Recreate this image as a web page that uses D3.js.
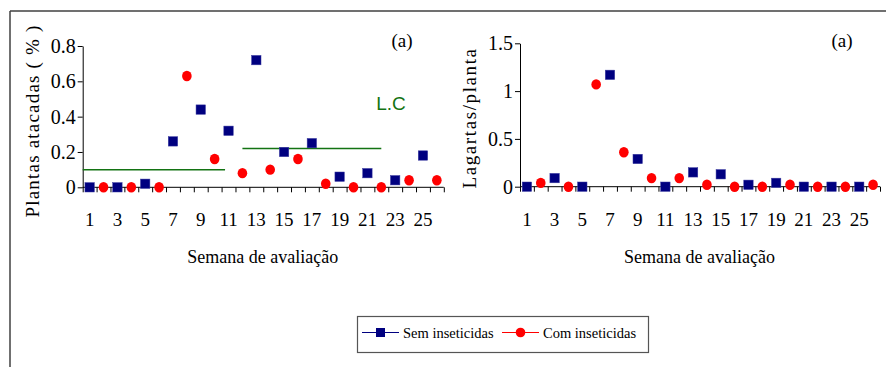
<!doctype html>
<html lang="pt">
<head>
<meta charset="utf-8">
<script src="https://d3js.org/d3.v7.min.js"></script>
<style>
  body { margin: 0; background: #fff; }
  text { font-family: "Liberation Serif", "Times New Roman", serif; fill: #000; }
  .axis path, .axis line { stroke: #000; stroke-width: 1; }
</style>
</head>
<body>
<svg width="886" height="367"></svg>
<script>
// weeks 1..26; "Sem" on odd weeks, "Com" on even weeks
var weeks = d3.range(1, 27);
var semWeeks = [1, 3, 5, 7, 9, 11, 13, 15, 17, 19, 21, 23, 25];
var comWeeks = [2, 4, 6, 8, 10, 12, 14, 16, 18, 20, 22, 24, 26];
var tickWeeks = [1, 3, 5, 7, 9, 11, 13, 15, 17, 19, 21, 23, 25];

// left panel: plantas atacadas (%)
var semAtacadas = [0, 0, 0.02, 0.26, 0.44, 0.32, 0.72, 0.20, 0.25, 0.06, 0.08, 0.04, 0.18];
var comAtacadas = [0, 0, 0, 0.63, 0.16, 0.08, 0.10, 0.16, 0.02, 0, 0, 0.04, 0.04];
var leftTicks = [0, 0.2, 0.4, 0.6, 0.8];
// L.C segments (week from, week to, level)
var lcSegments = [
  {from: 0.5, to: 10.75, value: 0.1},
  {from: 12, to: 22, value: 0.22}
];

// right panel: lagartas/planta
var semLagartas = [0, 0.09, 0, 1.17, 0.29, 0, 0.15, 0.13, 0.02, 0.04, 0, 0, 0];
var comLagartas = [0.04, 0, 1.07, 0.36, 0.09, 0.09, 0.02, 0, 0, 0.02, 0, 0, 0.02];
var rightTicks = [0, 0.5, 1, 1.5];

var svg = d3.select("svg");

// outer frame (top and left only)
svg.append("line").attr("x1", 10).attr("y1", 11).attr("x2", 886).attr("y2", 11)
  .attr("stroke", "#404040").attr("stroke-width", 1.5);
svg.append("line").attr("x1", 10).attr("y1", 11).attr("x2", 10).attr("y2", 367)
  .attr("stroke", "#404040").attr("stroke-width", 1.5);

function panel(opts) {
  var g = svg.append("g");
  var x = d3.scaleLinear().domain([0.5, 26.5]).range([opts.x0, opts.x1]);
  var y = d3.scaleLinear().domain([0, opts.yMax]).range([opts.y0, opts.yTop]);

  // y axis
  var ya = g.append("g").attr("class", "axis")
    .attr("transform", "translate(" + opts.x0 + ",0)")
    .call(d3.axisLeft(y).tickValues(opts.ticks).tickSize(5).tickSizeOuter(0).tickPadding(2)
      .tickFormat(function(d) { return String(d); }));
  ya.selectAll("text").style("font-size", "20px").style("font-family", "Liberation Serif");

  // x axis: boundary ticks below
  var xa = g.append("g").attr("class", "axis")
    .attr("transform", "translate(0," + opts.y0 + ")")
    .call(d3.axisBottom(x).tickValues(d3.range(0.5, 27, 1)).tickSize(5).tickSizeOuter(0)
      .tickFormat(""));
  xa.select(".domain").attr("d", "M" + opts.x0 + ",0H" + opts.x1);

  // x labels
  g.selectAll(".xl").data(tickWeeks).enter().append("text")
    .attr("x", function(d) { return x(d); })
    .attr("y", opts.y0 + 39)
    .attr("text-anchor", "middle")
    .style("font-size", "19px")
    .text(function(d) { return d; });

  if (opts.lc) {
    g.selectAll(".lc").data(opts.lc).enter().append("line")
      .attr("x1", function(d) { return x(d.from); })
      .attr("x2", function(d) { return x(d.to); })
      .attr("y1", function(d) { return y(d.value); })
      .attr("y2", function(d) { return y(d.value); })
      .attr("stroke", "#137313").attr("stroke-width", 1.5);
  }

  // com inseticidas (red circles)
  g.selectAll(".com").data(opts.com).enter().append("ellipse")
    .attr("cx", function(d, i) { return x(comWeeks[i]); })
    .attr("cy", function(d) { return y(d); })
    .attr("rx", 4.8).attr("ry", 5.2)
    .attr("fill", "#ff0000");

  // sem inseticidas (navy squares)
  g.selectAll(".sem").data(opts.sem).enter().append("rect")
    .attr("x", function(d, i) { return x(semWeeks[i]) - 4.7; })
    .attr("y", function(d) { return y(d) - 4.7; })
    .attr("width", 9.4).attr("height", 9.4)
    .attr("fill", "#000080")
    .attr("stroke", "#3a3aa0").attr("stroke-width", 0.5);

  // titles
  g.append("text")
    .attr("x", (opts.x0 + opts.x1) / 2 - 0.5).attr("y", 263)
    .attr("text-anchor", "middle").style("font-size", "18px")
    .text("Semana de avaliação");
  g.append("text")
    .attr("transform", "translate(" + opts.yTitleX + "," + opts.yTitleY + ") rotate(-90)")
    .attr("text-anchor", "middle").style("font-size", "19px")
    .style("letter-spacing", opts.spacing + "px")
    .text(opts.yTitle);
  g.append("text")
    .attr("x", opts.tagX).attr("y", 47)
    .attr("text-anchor", "middle").style("font-size", "19px")
    .text("(a)");
  return {x: x, y: y};
}

panel({
  x0: 82.7, x1: 443.8, y0: 187.3, yTop: 46, yMax: 0.8, ticks: leftTicks,
  sem: semAtacadas, com: comAtacadas, lc: lcSegments,
  yTitle: "Plantas  atacadas ( % )", yTitleX: 39, yTitleY: 121, spacing: 1.2,
  tagX: 402
});
svg.append("text")
  .attr("x", 391).attr("y", 110).attr("text-anchor", "middle")
  .style("font-family", "Liberation Sans").style("font-size", "19px")
  .style("fill", "#137313")
  .text("L.C");

panel({
  x0: 520, x1: 880, y0: 186.7, yTop: 43.3, yMax: 1.5, ticks: rightTicks,
  sem: semLagartas, com: comLagartas,
  yTitle: "Lagartas/planta", yTitleX: 476, yTitleY: 118, spacing: 1.6,
  tagX: 842
});

// legend
var lg = svg.append("g");
lg.append("rect").attr("x", 357.5).attr("y", 316.5).attr("width", 291).attr("height", 36)
  .attr("fill", "#fff").attr("stroke", "#555").attr("stroke-width", 1.2);
var items = [
  {label: "Sem inseticidas", color: "#000080", shape: "square", x: 362},
  {label: "Com inseticidas", color: "#ff0000", shape: "circle", x: 502}
];
items.forEach(function(it) {
  lg.append("line").attr("x1", it.x).attr("x2", it.x + 37).attr("y1", 332.5).attr("y2", 332.5)
    .attr("stroke", it.color).attr("stroke-width", 1.2);
  if (it.shape === "square") {
    lg.append("rect").attr("x", it.x + 18.5 - 4.5).attr("y", 332.5 - 4.5)
      .attr("width", 9).attr("height", 9).attr("fill", it.color);
  } else {
    lg.append("circle").attr("cx", it.x + 18.5).attr("cy", 332.5).attr("r", 4.8)
      .attr("fill", it.color);
  }
  lg.append("text").attr("x", it.x + 41).attr("y", 337.5)
    .style("font-size", "14.5px").text(it.label);
});
</script>
</body>
</html>
